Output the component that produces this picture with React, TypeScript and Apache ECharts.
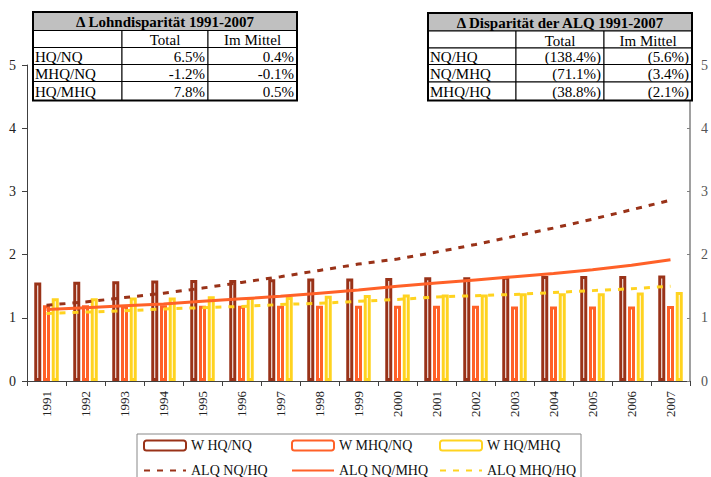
import React, { useEffect, useRef } from "react";
import * as echarts from "echarts";

const years = ["1991","1992","1993","1994","1995","1996","1997","1998","1999","2000","2001","2002","2003","2004","2005","2006","2007"];
const wHqNq = [1.56,1.57,1.58,1.59,1.60,1.60,1.61,1.62,1.62,1.63,1.64,1.64,1.65,1.66,1.66,1.66,1.67];
const wMhqNq = [1.20,1.20,1.19,1.20,1.19,1.19,1.19,1.19,1.19,1.19,1.19,1.19,1.18,1.18,1.18,1.18,1.185];
const wHqMhq = [1.31,1.31,1.32,1.32,1.34,1.33,1.33,1.35,1.36,1.37,1.37,1.37,1.39,1.39,1.39,1.40,1.41];
const alqNqHq = [1.20,1.25,1.32,1.39,1.47,1.56,1.65,1.75,1.85,1.93,2.04,2.16,2.29,2.42,2.56,2.71,2.86];
const alqNqMhq = [1.13,1.16,1.19,1.22,1.26,1.30,1.34,1.39,1.44,1.50,1.55,1.60,1.65,1.70,1.76,1.83,1.92];
const alqMhqHq = [1.07,1.09,1.11,1.14,1.16,1.18,1.21,1.23,1.26,1.29,1.33,1.35,1.37,1.40,1.43,1.46,1.50];

const lohnTitle = "Δ Lohndisparität 1991-2007";
const lohnRows = ["HQ/NQ", "MHQ/NQ", "HQ/MHQ"];
const lohnTotal = ["6.5%", "-1.2%", "7.8%"];
const lohnMittel = ["0.4%", "-0.1%", "0.5%"];
const alqTitle = "Δ Disparität der ALQ 1991-2007";
const alqRows = ["NQ/HQ", "NQ/MHQ", "MHQ/HQ"];
const alqTotal = ["(138.4%)", "(71.1%)", "(38.8%)"];
const alqMittel = ["(5.6%)", "(3.4%)", "(2.1%)"];
const colHeaders = ["", "Total", "Im Mittel"];

const BROWN = "#993218";
const ORANGE = "#FF6128";
const YELLOW = "#FFD320";
const FONT = "Liberation Serif";

function txt(x: number, y: number, text: string, align: string, bold = false) {
  return {
    type: "text",
    x,
    y,
    z: 10,
    style: {
      text,
      fontFamily: FONT,
      fontSize: 15,
      fontWeight: bold ? "bold" : "normal",
      fill: "#000",
      align,
      verticalAlign: "middle",
    },
  };
}

function buildTable(cols: number[], rows: number[], title: string, labels: string[], totals: string[], mittels: string[]) {
  const els: any[] = [];
  els.push({
    type: "rect",
    z: 9,
    shape: { x: cols[0], y: rows[0], width: cols[3] - cols[0], height: rows[1] - rows[0] },
    style: { fill: "#C0C0C0", stroke: "#000", lineWidth: 1 },
  });
  els.push(txt((cols[0] + cols[3]) / 2, (rows[0] + rows[1]) / 2 + 1, title, "center", true));
  for (let r = 1; r < rows.length - 1; r++) {
    for (let c = 0; c < 3; c++) {
      els.push({
        type: "rect",
        z: 9,
        shape: { x: cols[c], y: rows[r], width: cols[c + 1] - cols[c], height: rows[r + 1] - rows[r] },
        style: { fill: "#fff", stroke: "#000", lineWidth: 1 },
      });
    }
  }
  const cy = (r: number) => (rows[r] + rows[r + 1]) / 2 + 1;
  for (let c = 1; c < 3; c++) {
    els.push(txt((cols[c] + cols[c + 1]) / 2, cy(1), colHeaders[c], "center"));
  }
  for (let i = 0; i < labels.length; i++) {
    const r = i + 2;
    els.push(txt(cols[0] + 2, cy(r), labels[i], "left"));
    els.push(txt(cols[2] - 3, cy(r), totals[i], "right"));
    els.push(txt(cols[3] - 3, cy(r), mittels[i], "right"));
  }
  els.push({
    type: "rect",
    z: 11,
    shape: { x: cols[0], y: rows[0], width: cols[3] - cols[0], height: rows[rows.length - 1] - rows[0] },
    style: { fill: "none", stroke: "#000", lineWidth: 2 },
  });
  return els;
}

export default function App() {
  const ref = useRef<HTMLDivElement>(null);
  useEffect(() => {
    if (!ref.current) return;
    const chart = echarts.init(ref.current, undefined, { renderer: "svg" });
    const barBase = (name: string, data: number[], color: string, z: number) => ({
      name,
      type: "bar",
      data,
      barWidth: 7,
      barGap: "25%",
      z,
      itemStyle: { color: "rgba(255,255,255,0)", borderColor: color, borderWidth: 3 },
    });
    const lineBase = (name: string, data: number[], color: string, dashed: boolean) => ({
      name,
      type: "line",
      data,
      symbol: "none",
      z: 5,
      lineStyle: { color, width: 3, type: dashed ? [6, 7] : "solid" },
      itemStyle: { color },
    });
    const hidden = { color: "rgba(0,0,0,0)", borderColor: "rgba(0,0,0,0)", borderWidth: 0 };
    const legendCommon = {
      orient: "vertical",
      top: 438,
      height: 80,
      itemWidth: 42,
      itemHeight: 10,
      itemGap: 10,
      textStyle: { fontFamily: FONT, fontSize: 14, color: "#111", lineHeight: 15 },
      padding: 0,
    };
    chart.setOption({
      animation: false,
      grid: { left: 27, right: 12, top: 65, bottom: 96, containLabel: false },
      xAxis: {
        type: "category",
        data: years,
        boundaryGap: true,
        axisLine: { lineStyle: { color: "#404040", width: 1 } },
        axisTick: { show: true, length: 5, lineStyle: { color: "#404040" } },
        axisLabel: { rotate: 90, fontFamily: FONT, fontSize: 13, color: "#222", margin: 10 },
      },
      yAxis: [
        {
          type: "value",
          min: 0,
          max: 5,
          interval: 1,
          position: "left",
          axisLine: { show: true, lineStyle: { color: "#404040", width: 1 } },
          axisTick: { show: true, length: 5, lineStyle: { color: "#404040" } },
          axisLabel: { fontFamily: FONT, fontSize: 14, color: "#222", margin: 11 },
          splitLine: { show: false },
        },
        {
          type: "value",
          min: 0,
          max: 5,
          interval: 1,
          position: "right",
          axisLine: { show: true, lineStyle: { color: "#A0A0A0", width: 2 } },
          axisTick: { show: true, inside: true, length: 3, lineStyle: { color: "#808080" } },
          axisLabel: { fontFamily: FONT, fontSize: 14, color: "#555", margin: 11 },
          splitLine: { show: false },
        },
      ],
      legend: [
        { ...legendCommon, left: 143, data: ["W HQ/NQ", { name: "ALQ NQ/HQ", itemStyle: hidden }] },
        { ...legendCommon, left: 291, data: ["W MHQ/NQ", { name: "ALQ NQ/MHQ", itemStyle: hidden }] },
        { ...legendCommon, left: 439, data: ["W HQ/MHQ", { name: "ALQ MHQ/HQ", itemStyle: hidden }] },
      ],
      graphic: [
        {
          type: "rect",
          shape: { x: 137, y: 434, width: 444, height: 60 },
          style: { fill: "none", stroke: "#888", lineWidth: 1 },
          z: 0,
        },
        ...buildTable([33, 122, 208, 297], [12, 30.5, 47.5, 64.5, 81.5, 100.5], lohnTitle, lohnRows, lohnTotal, lohnMittel),
        ...buildTable([428, 516, 604, 692], [13, 31, 48, 64.5, 82, 100.5], alqTitle, alqRows, alqTotal, alqMittel),
      ],
      series: [
        barBase("W HQ/NQ", wHqNq, BROWN, 4),
        barBase("W MHQ/NQ", wMhqNq, ORANGE, 3),
        barBase("W HQ/MHQ", wHqMhq, YELLOW, 3),
        lineBase("ALQ NQ/HQ", alqNqHq, BROWN, true),
        lineBase("ALQ NQ/MHQ", alqNqMhq, ORANGE, false),
        lineBase("ALQ MHQ/HQ", alqMhqHq, YELLOW, true),
      ],
    });
    return () => chart.dispose();
  }, []);
  return <div ref={ref} style={{ position: "absolute", left: 0, top: 0, width: 711, height: 477 }} />;
}
